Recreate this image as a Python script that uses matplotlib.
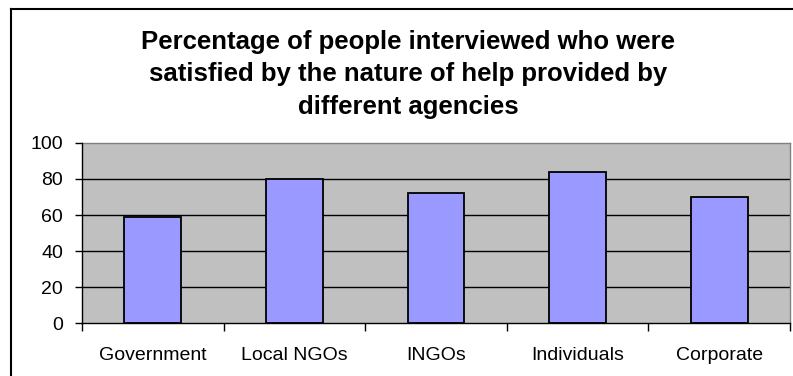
import numpy as np
import matplotlib
matplotlib.use("Agg")
import matplotlib.pyplot as plt
from matplotlib.lines import Line2D

# satisfaction by agency type (%)
agencies = ['Government', 'Local NGOs', 'INGOs', 'Individuals', 'Corporate']
satisfied = [59, 80, 72, 84, 70]
y_ticks = [0, 20, 40, 60, 80, 100]

title_lines = ['Percentage of people interviewed who were',
               'satisfied by the nature of help provided by',
               'different agencies']

plt.rcParams['font.family'] = ['Liberation Sans', 'DejaVu Sans']

W, H = 793, 376
fig = plt.figure(figsize=(W / 100, H / 100), dpi=100)
fig.patch.set_facecolor('white')

# chart frame (left and top edges are the only ones visible)
fig.add_artist(Line2D([11 / W, 11 / W], [0, 1 - 9 / H], color='black', lw=1.5,
                      transform=fig.transFigure))
fig.add_artist(Line2D([11 / W, 1], [1 - 9 / H, 1 - 9 / H], color='black', lw=1.5,
                      transform=fig.transFigure))

# title, one line at a time so the spacing can be set in pixels
for i, line in enumerate(title_lines):
    fig.text(408 / W, 1 - (49 + 32.5 * i) / H, line, ha='center', va='baseline',
             fontsize=18.5, fontweight='bold')

ax = fig.add_axes([82 / W, (H - 323) / H, 708 / W, 180 / H])
ax.set_facecolor('#C0C0C0')

x = np.arange(len(agencies))
ax.bar(x, satisfied, width=0.4, color='#9999FF', edgecolor='black', linewidth=1.3,
       zorder=3)

ax.set_xlim(-0.5, len(agencies) - 0.5)
ax.set_ylim(0, 100)
ax.set_yticks(y_ticks)
ax.set_yticklabels([str(v) for v in y_ticks])
for v in y_ticks[1:-1]:
    ax.axhline(v, color='black', lw=1, zorder=1)

ax.set_xticks(x)
ax.set_xticklabels(agencies)
ax.set_xticks(np.arange(len(agencies) + 1) - 0.5, minor=True)
ax.tick_params(axis='x', which='major', length=0, pad=17, labelsize=14)
ax.tick_params(axis='x', which='minor', length=6, width=1, color='black')
ax.tick_params(axis='y', length=5, width=1, pad=8.5, labelsize=14, color='black')

for side in ['top', 'right']:
    ax.spines[side].set_color('#808080')
    ax.spines[side].set_linewidth(1)
for side in ['left', 'bottom']:
    ax.spines[side].set_color('black')
    ax.spines[side].set_linewidth(1)
    ax.spines[side].set_zorder(4)

fig.savefig('out.png', dpi=100)
